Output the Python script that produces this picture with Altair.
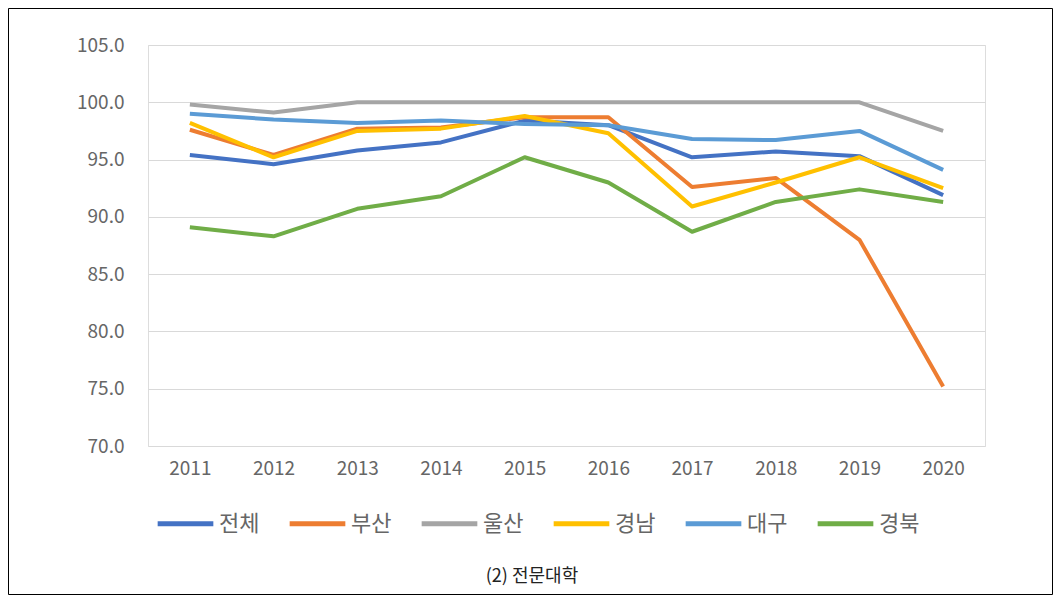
import altair as alt
import pandas as pd

years = ["2011", "2012", "2013", "2014", "2015", "2016", "2017", "2018", "2019", "2020"]
series_names = ["전체", "부산", "울산", "경남", "대구", "경북"]
colors = ["#4472C4", "#ED7D31", "#A5A5A5", "#FFC000", "#5B9BD5", "#70AD47"]

total = [95.4, 94.6, 95.8, 96.5, 98.4, 98.0, 95.2, 95.7, 95.3, 91.9]
busan = [97.6, 95.4, 97.7, 97.8, 98.7, 98.7, 92.6, 93.4, 88.0, 75.2]
ulsan = [99.8, 99.1, 100.0, 100.0, 100.0, 100.0, 100.0, 100.0, 100.0, 97.5]
gyeongnam = [98.2, 95.2, 97.5, 97.7, 98.8, 97.3, 90.9, 93.0, 95.2, 92.5]
daegu = [99.0, 98.5, 98.2, 98.4, 98.1, 98.0, 96.8, 96.7, 97.5, 94.1]
gyeongbuk = [89.1, 88.3, 90.7, 91.8, 95.2, 93.0, 88.7, 91.3, 92.4, 91.3]

caption = "(2) 전문대학"

values = [total, busan, ulsan, gyeongnam, daegu, gyeongbuk]
rows = []
for si, (name, vals) in enumerate(zip(series_names, values)):
    for y, v in zip(years, vals):
        rows.append({"year": y, "series": name, "value": v, "order": si})
df = pd.DataFrame(rows)

FONT = "Noto Sans CJK KR"

lines = alt.Chart(df).mark_line(strokeWidth=4, strokeJoin="round").encode(
    x=alt.X("year:O", sort=years, scale=alt.Scale(type="point", padding=0.5),
            axis=alt.Axis(title=None, labelAngle=0, domain=False, ticks=False,
                          labelPadding=13, labelFontSize=19, labelColor="#666666",
                          labelFont=FONT, grid=False)),
    y=alt.Y("value:Q", scale=alt.Scale(domain=[70, 105], nice=False, zero=False),
            axis=alt.Axis(title=None, values=[70, 75, 80, 85, 90, 95, 100, 105],
                          format=".1f", domain=False, ticks=False, labelPadding=24,
                          labelFontSize=19, labelColor="#666666", labelFont=FONT,
                          gridColor="#D9D9D9", gridWidth=1)),
    color=alt.Color("series:N", sort=series_names,
                    scale=alt.Scale(domain=series_names, range=colors),
                    legend=alt.Legend(title=None, orient="none", legendX=7, legendY=448,
                                      direction="horizontal", columns=6,
                                      symbolType="stroke", symbolSize=3100,
                                      symbolStrokeWidth=5, labelFontSize=22,
                                      labelFont=FONT, labelColor="#666666",
                                      labelOffset=3, columnPadding=19)),
    order=alt.Order("order:Q"),
    detail="series:N",
)

cap_df = pd.DataFrame({"t": [caption]})
cap = alt.Chart(cap_df).mark_text(fontSize=18, font=FONT, color="#222222",
                                  align="center", baseline="middle").encode(
    text="t:N", x=alt.value(384), y=alt.value(532)
)

frame_df = pd.DataFrame({"a": [0]})
frame = alt.Chart(frame_df).mark_rect(fill=None, stroke="#000000", strokeWidth=1,
                                      clip=False).encode(
    x=alt.value(-139.5), x2=alt.value(904.5), y=alt.value(-36.5), y2=alt.value(549.5)
)

chart = alt.layer(lines, cap, frame).properties(
    width=837, height=401,
    autosize=alt.AutoSizeParams(type="none"),
    padding={"left": 140, "top": 37, "right": 68, "bottom": 149},
).configure_view(stroke=None).configure(background="white")

chart.save("out.html", embed_options={"renderer": "svg", "actions": False})
